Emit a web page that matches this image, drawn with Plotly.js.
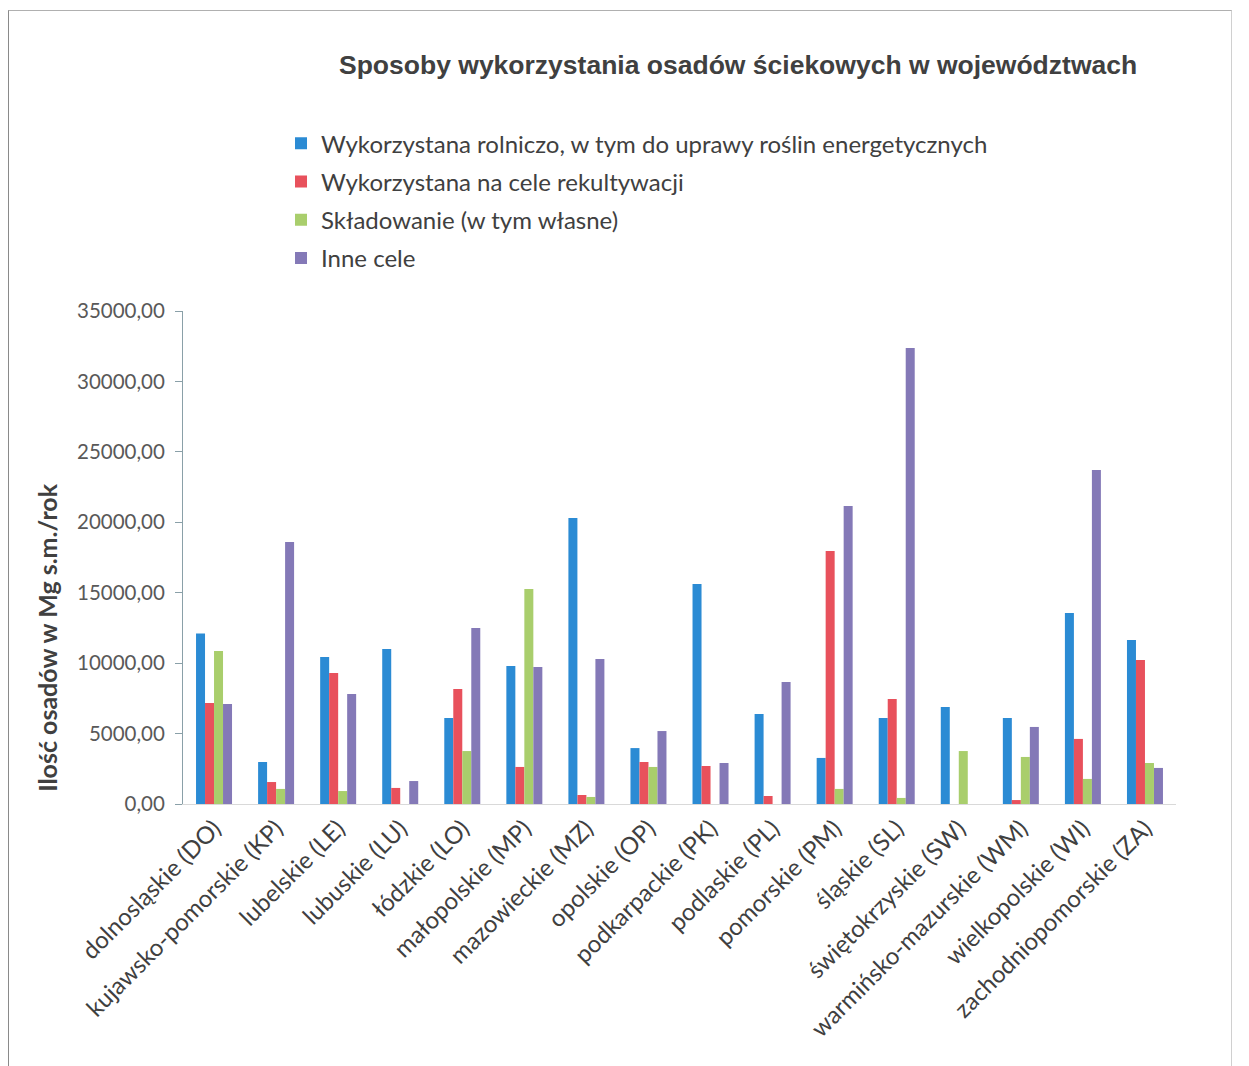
<!DOCTYPE html>
<html>
<head>
<meta charset="utf-8">
<script src="https://cdn.plot.ly/plotly-3.0.1.min.js"></script>
<style>
html,body{margin:0;padding:0;background:#fff;}
#frame{position:absolute;left:8px;top:10px;width:1224px;height:1070px;border-left:1px solid #8a8a8a;border-top:1px solid #b0b0b0;border-right:1px solid #d0d0d0;box-sizing:border-box;}
#chart{position:absolute;left:0;top:0;width:1249px;height:1066px;}
</style>
</head>
<body>
<div id="frame"></div>
<div id="chart"></div>
<script>
const categories = ["dolnosląskie (DO)","kujawsko-pomorskie (KP)","lubelskie (LE)","lubuskie (LU)","łódzkie (LO)","małopolskie (MP)","mazowieckie (MZ)","opolskie (OP)","podkarpackie (PK)","podlaskie (PL)","pomorskie (PM)","śląskie (SL)","świętokrzyskie (SW)","warmińsko-mazurskie (WM)","wielkopolskie (WI)","zachodniopomorskie (ZA)"];
const rolniczo    = [12100, 2980, 10440, 11000, 6110, 9800, 20300, 3970, 15620, 6390, 3270, 6110, 6890, 6110, 13560, 11640];
const rekultywacja= [7170, 1560, 9300, 1140, 8160, 2630, 640, 2980, 2700, 570, 17960, 7450, 0, 280, 4620, 10220];
const skladowanie = [10860, 1070, 920, 0, 3760, 15260, 500, 2630, 0, 0, 1070, 430, 3760, 3340, 1780, 2910];
const inne        = [7100, 18600, 7810, 1630, 12490, 9730, 10290, 5180, 2910, 8660, 21160, 32370, 0, 5470, 23710, 2560];
const seriesNames = ["Wykorzystana rolniczo, w tym do uprawy roślin energetycznych","Wykorzystana na cele rekultywacji","Składowanie (w tym własne)","Inne cele"];
const colors = ["#2B8BD4","#E8515C","#A9CE6C","#8479B7"];
const yTicks = [0,5000,10000,15000,20000,25000,30000,35000];

const font = "Lato, 'Noto Sans', sans-serif";
const data = [rolniczo, rekultywacja, skladowanie, inne].map((vals,i)=>({
  type:"bar", x:categories, y:vals, name:seriesNames[i],
  marker:{color:colors[i]}, legendgroup:"g"+i
}));

const layout = {
  width:1249, height:1066,
  paper_bgcolor:"rgba(0,0,0,0)", plot_bgcolor:"rgba(0,0,0,0)",
  margin:{l:183, r:73, t:311, b:262},
  font:{family:font, color:"#404040"},
  separators:", ",
  barmode:"group", bargap:0.42, bargroupgap:0,
  showlegend:true,
  title:{text:"<b>Sposoby wykorzystania osadów ściekowych w województwach</b>",
    font:{size:26.5, family:"'Liberation Sans', Arial, sans-serif", color:"#404040"},
    xref:"paper", x:0.559, xanchor:"center", yref:"container", y:0.939, yanchor:"middle"},
  legend:{x:0.0987, y:1.385, xanchor:"left", yanchor:"top", traceorder:"grouped",
    tracegroupgap:4, font:{size:24, family:font, color:"#404040"}, itemwidth:30, bgcolor:"rgba(0,0,0,0)"},
  xaxis:{type:"category", tickangle:-45, tickfont:{size:24, family:font, color:"#404040"},
    showline:true, linecolor:"#d9d9d9", linewidth:1, ticks:"", showgrid:false, zeroline:false},
  yaxis:{range:[0,35000], tickvals:yTicks, tickformat:".2f", ticks:"outside", ticklen:7,
    ticklabelstandoff:6,
    tickcolor:"#8aa0a8", showline:true, linecolor:"#8aa0a8", linewidth:1, showgrid:false, zeroline:false,
    tickfont:{size:20.5, family:font, color:"#595959"}},
  annotations:[{text:"<b>Ilość osadów w Mg s.m./rok</b>", xref:"paper", yref:"paper",
    x:-0.137, y:0.339, textangle:-90, showarrow:false, xanchor:"center", yanchor:"middle",
    font:{size:25, family:font, color:"#404040"}}]
};
Plotly.newPlot("chart", data, layout, {displayModeBar:false, staticPlot:true});
</script>
</body>
</html>
